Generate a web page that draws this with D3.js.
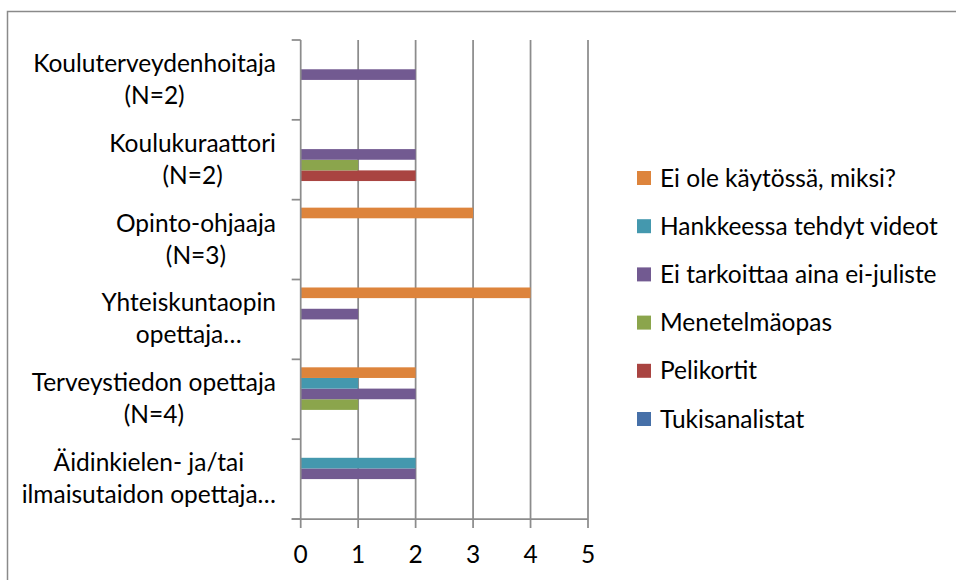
<!DOCTYPE html>
<html>
<head>
<meta charset="utf-8">
<script src="https://cdn.jsdelivr.net/npm/d3@7"></script>
<style>
  html, body { margin: 0; padding: 0; background: #fff; }
  svg { display: block; font-family: Lato, "Open Sans", sans-serif; }
</style>
</head>
<body>
<div id="chart"></div>
<script>
// categories, top to bottom (each is a list of label lines)
const categories = [
  ['Kouluterveydenhoitaja', '(N=2)'],
  ['Koulukuraattori', '(N=2)'],
  ['Opinto-ohjaaja', '(N=3)'],
  ['Yhteiskuntaopin', 'opettaja…'],
  ['Terveystiedon opettaja', '(N=4)'],
  ['Äidinkielen- ja/tai', 'ilmaisutaidon opettaja…']
];
const seriesNames = ['Tukisanalistat', 'Pelikortit', 'Menetelmäopas', 'Ei tarkoittaa aina ei-juliste', 'Hankkeessa tehdyt videot', 'Ei ole käytössä, miksi?'];
const tukisanalistat = [0, 0, 0, 0, 0, 0];
const pelikortit = [0, 2, 0, 0, 0, 0];
const menetelmaopas = [0, 1, 0, 0, 1, 0];
const eiJuliste = [2, 2, 0, 1, 2, 2];
const videot = [0, 0, 0, 0, 1, 2];
const eiKaytossa = [0, 0, 3, 4, 2, 0];
const seriesColors = ['#4670A8', '#A94441', '#8BA54C', '#725A91', '#4498AE', '#DD843C'];
const xTicks = [0, 1, 2, 3, 4, 5];

const seriesValues = [tukisanalistat, pelikortit, menetelmaopas, eiJuliste, videot, eiKaytossa];

const width = 956, height = 580;
const fontSize = 24.5;
const svg = d3.select('#chart').append('svg')
  .attr('width', width)
  .attr('height', height);

// chart area border (left + top only visible)
svg.append('path')
  .attr('d', `M7.5,${height} V11.5 H${width}`)
  .attr('fill', 'none')
  .attr('stroke', '#8a8a8a')
  .attr('stroke-width', 1.5);

const x = d3.scaleLinear().domain([0, 5]).range([300.7, 588]);
const y = d3.scaleBand().domain(d3.range(categories.length)).range([40, 519]);
// within a group Excel draws the first series at the bottom
const yInner = d3.scaleBand()
  .domain(d3.range(seriesNames.length).reverse())
  .range([y.bandwidth() * 0.1, y.bandwidth() * 0.9]);

// vertical gridlines
svg.append('g')
  .selectAll('line')
  .data(xTicks.slice(1))
  .join('line')
  .attr('x1', d => x(d)).attr('x2', d => x(d))
  .attr('y1', 40).attr('y2', 519)
  .attr('stroke', '#8c8c8c')
  .attr('stroke-width', 1.75);

// bars
const groups = svg.append('g')
  .selectAll('g')
  .data(categories)
  .join('g')
  .attr('transform', (d, i) => `translate(0,${y(i)})`);

groups.selectAll('rect')
  .data((d, i) => seriesValues.map((vals, s) => ({ s, v: vals[i] })).filter(d => d.v > 0))
  .join('rect')
  .attr('x', x(0))
  .attr('y', d => yInner(d.s))
  .attr('width', d => x(d.v) - x(0))
  .attr('height', yInner.bandwidth())
  .attr('fill', d => seriesColors[d.s]);

// y axis with ticks on band boundaries
const yAxis = svg.append('g');
yAxis.append('line')
  .attr('x1', x(0)).attr('x2', x(0))
  .attr('y1', 40).attr('y2', 519)
  .attr('stroke', '#8c8c8c').attr('stroke-width', 1.75);
yAxis.selectAll('.ytick')
  .data(d3.range(categories.length + 1))
  .join('line')
  .attr('class', 'ytick')
  .attr('x1', x(0) - 9).attr('x2', x(0))
  .attr('y1', i => 40 + i * y.step())
  .attr('y2', i => 40 + i * y.step())
  .attr('stroke', '#8c8c8c').attr('stroke-width', 1.75);

// category labels: lines centred on each other, block right edge at 275
const labelRight = 276;
const labels = svg.append('g')
  .attr('font-size', fontSize)
  .attr('fill', '#000');
categories.forEach((lines, i) => {
  const cy = y(i) + y.bandwidth() / 2;
  const g = labels.append('g');
  const texts = g.selectAll('text')
    .data(lines)
    .join('text')
    .attr('y', (d, j) => cy - 8 + j * 32)
    .attr('text-anchor', 'middle')
    .text(d => d);
  let maxW = 0;
  texts.each(function() { maxW = Math.max(maxW, this.getComputedTextLength()); });
  texts.attr('x', labelRight - maxW / 2);
});

// x axis
const xAxis = svg.append('g');
xAxis.append('line')
  .attr('x1', x(0) - 9).attr('x2', x(5))
  .attr('y1', 519).attr('y2', 519)
  .attr('stroke', '#8c8c8c').attr('stroke-width', 1.75);
xAxis.selectAll('.xtick')
  .data(xTicks)
  .join('line')
  .attr('class', 'xtick')
  .attr('x1', d => x(d)).attr('x2', d => x(d))
  .attr('y1', 519).attr('y2', 528)
  .attr('stroke', '#8c8c8c').attr('stroke-width', 1.75);
xAxis.selectAll('text')
  .data(xTicks)
  .join('text')
  .attr('x', d => x(d))
  .attr('y', 563)
  .attr('text-anchor', 'middle')
  .attr('font-size', fontSize)
  .text(d => d);

// legend, reversed order (last series on top)
const legend = svg.append('g');
const legendItems = legend.selectAll('g')
  .data(d3.range(seriesNames.length).reverse())
  .join('g')
  .attr('transform', (s, k) => `translate(637,${178 + k * 48.2})`);
legendItems.append('rect')
  .attr('x', 0).attr('y', -7)
  .attr('width', 14).attr('height', 14)
  .attr('fill', s => seriesColors[s]);
legendItems.append('text')
  .attr('x', 23)
  .attr('y', 8.5)
  .attr('font-size', fontSize)
  .text(s => seriesNames[s]);
</script>
</body>
</html>
